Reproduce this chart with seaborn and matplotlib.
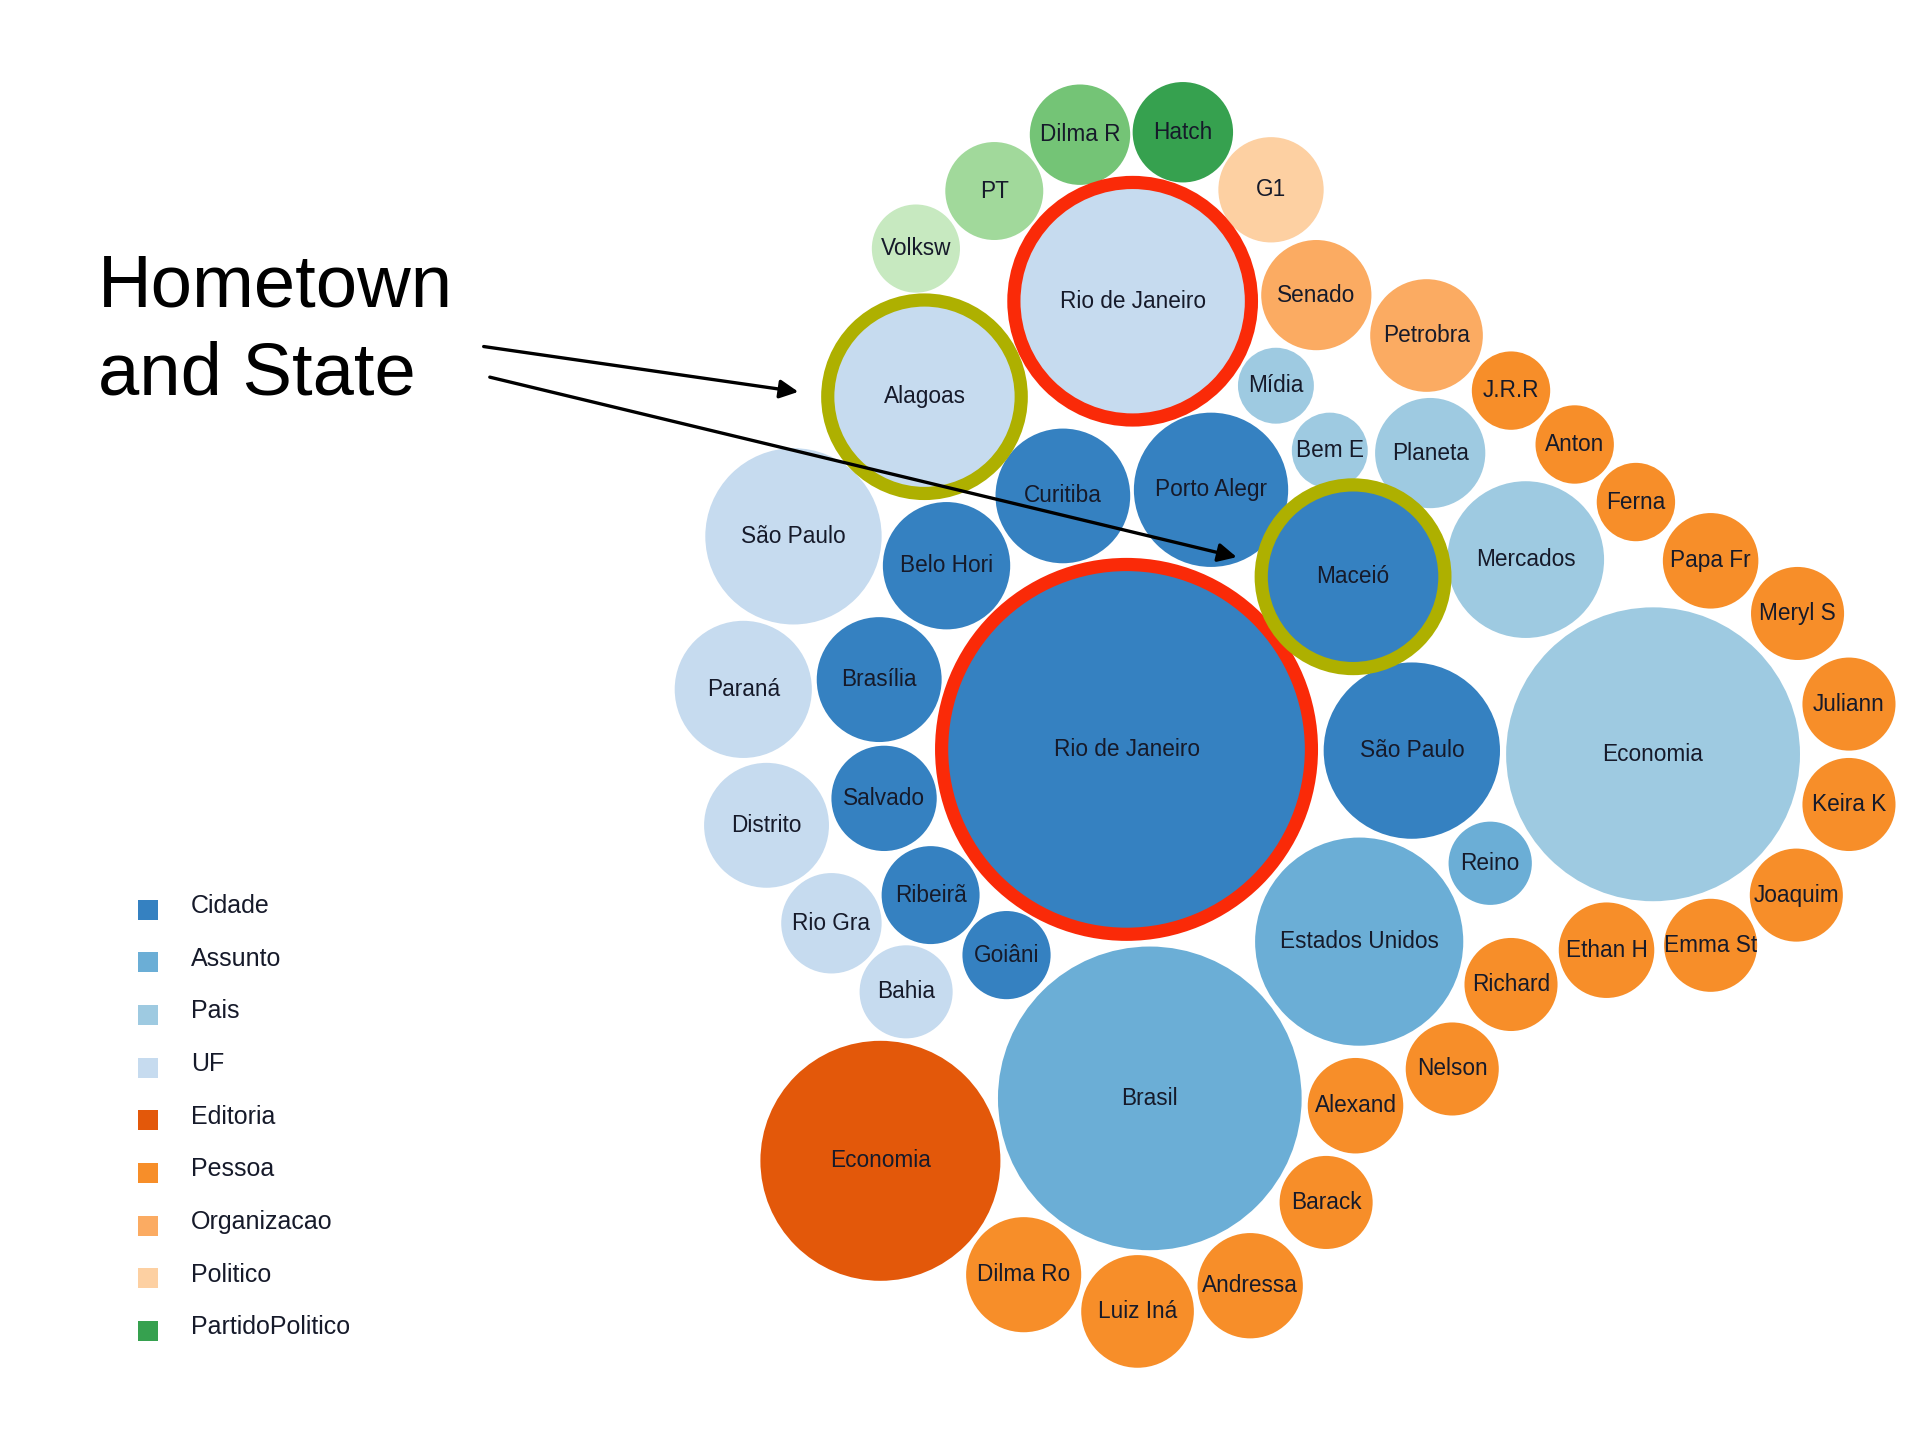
import matplotlib
matplotlib.use("Agg")
import matplotlib.pyplot as plt
from matplotlib.patches import Circle
import seaborn as sns

sns.set_style("white")
plt.rcParams['font.family'] = ['Liberation Sans', 'DejaVu Sans']

# legend categories (d3 category20c colours)
groups = ['Cidade', 'Assunto', 'Pais', 'UF', 'Editoria', 'Pessoa',
          'Organizacao', 'Politico', 'PartidoPolitico']
pal = sns.color_palette(['#3581c1', '#6baed6', '#9ecae1', '#c6dbef', '#e3580a',
                         '#f78e29', '#fbab62', '#fdd0a2', '#36a14f',
                         '#74c476', '#a1d99b', '#c7e9c0'])

# bubbles: label, colour group, centre x, centre y, radius
labels = ['Rio de Janeiro', 'São Paulo', 'Maceió', 'Porto Alegr', 'Curitiba',
          'Belo Hori', 'Brasília', 'Salvado', 'Ribeirã', 'Goiâni',
          'Brasil', 'Estados Unidos', 'Reino',
          'Economia', 'Mercados', 'Planeta', 'Bem E', 'Mídia',
          'Rio de Janeiro', 'Alagoas', 'São Paulo', 'Paraná', 'Distrito', 'Rio Gra', 'Bahia',
          'Economia',
          'J.R.R', 'Anton', 'Ferna', 'Papa Fr', 'Meryl S', 'Juliann', 'Keira K',
          'Joaquim', 'Emma St', 'Ethan H', 'Richard', 'Nelson', 'Alexand', 'Barack',
          'Andressa', 'Luiz Iná', 'Dilma Ro',
          'Senado', 'Petrobra',
          'G1',
          'Hatch', 'Dilma R', 'PT', 'Volksw']
group = [0] * 10 + [1] * 3 + [2] * 5 + [3] * 7 + [4] + [5] * 17 + [6] * 2 + [7] + [8, 9, 10, 11]
cx = [920, 1153, 1105, 989, 868, 773, 718, 722, 760, 822,
      939, 1110, 1217,
      1350, 1246, 1168, 1086, 1042,
      925, 755, 648, 607, 626, 679, 740,
      719,
      1234, 1286, 1336, 1397, 1468, 1510, 1510, 1467, 1397, 1312, 1234, 1186, 1107, 1083,
      1021, 929, 836,
      1075, 1165,
      1038,
      966, 882, 812, 748]
cy = [612, 613, 471, 400, 405, 462, 555, 652, 731, 780,
      897, 769, 705,
      616, 457, 370, 368, 315,
      246, 324, 438, 563, 674, 754, 810,
      948,
      319, 363, 410, 458, 501, 575, 657, 731, 772, 776, 804, 873, 903, 982,
      1050, 1071, 1041,
      241, 274,
      155,
      108, 110, 156, 203]
rad = [151, 72, 75, 63, 55, 52, 51, 43, 40, 36,
       124, 85, 34,
       120, 64, 45, 31, 31,
       97, 79, 72, 56, 51, 41, 38,
       98,
       32, 32, 32, 39, 38, 38, 38, 38, 38, 39, 38, 38, 39, 38,
       43, 46, 47,
       45, 46,
       43,
       41, 41, 40, 36]

# highlighted bubbles (index into the lists above)
ring_idx = [0, 18, 19, 2]
ring_col = ['#fa2a08', '#fa2a08', '#aeb000', '#aeb000']

fig = plt.figure(figsize=(19.2, 14.4), dpi=100)
ax = fig.add_axes([0, 0, 1, 1])
ax.set_xlim(0, 1568)
ax.set_ylim(1176, 0)
ax.set_aspect('equal')
ax.axis('off')

for i in range(len(labels)):
    ax.add_patch(Circle((cx[i], cy[i]), rad[i], facecolor=pal[group[i]],
                        edgecolor='none', zorder=2))
    ax.text(cx[i], cy[i], labels[i], ha='center', va='center',
            fontsize=16.3, color='#161a2a', zorder=5)

for i, c in zip(ring_idx, ring_col):
    ax.add_patch(Circle((cx[i], cy[i]), rad[i], facecolor='none',
                        edgecolor=c, linewidth=9.5, zorder=3))

# annotation
ax.text(80, 250, 'Hometown', fontsize=53.5, color='black', va='baseline')
ax.text(80, 322, 'and State', fontsize=53.5, color='black', va='baseline')
arrow = dict(arrowstyle='-|>', color='black', lw=2.4, mutation_scale=28,
             shrinkA=0, shrinkB=0)
ax.annotate('', xy=(652, 320), xytext=(395, 283), arrowprops=arrow, zorder=6)
ax.annotate('', xy=(1010, 455), xytext=(400, 308), arrowprops=arrow, zorder=6)

# legend
for k, name in enumerate(groups):
    y = 743 + k * 43
    ax.scatter([121], [y], marker='s', s=15 ** 2, color=pal[k], linewidths=0, zorder=4)
    ax.text(156, y - 3, name, fontsize=18, color='#161a2a', va='center')

fig.savefig('out.png', dpi=100)
